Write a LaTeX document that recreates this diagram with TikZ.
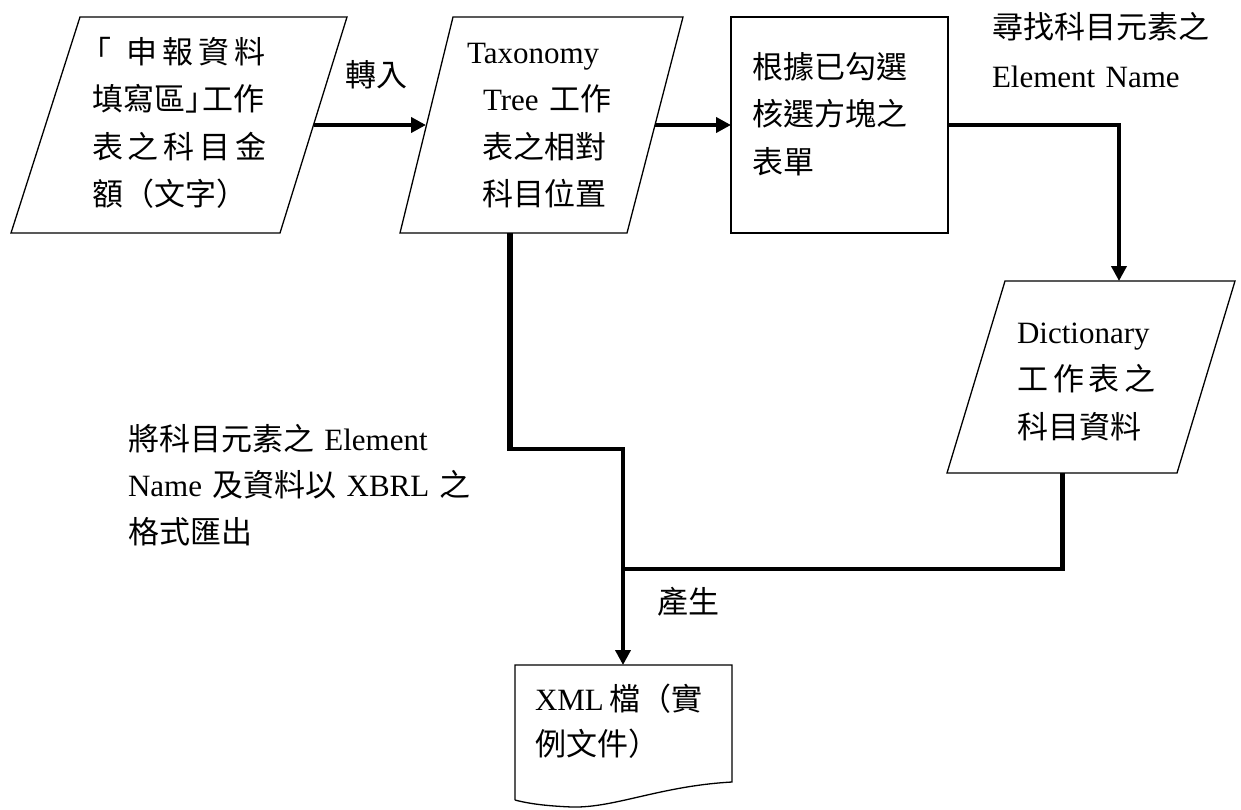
\documentclass[tikz,border=0pt]{standalone}
\usepackage{fontspec}
\setmainfont{Liberation Serif}
\newfontfamily\cjk{Noto Sans CJK TC}
\usetikzlibrary{arrows.meta}
\newcommand{\zh}[1]{{\cjk #1}}
\newcommand{\lsp}{\kern5pt}
\begin{document}
\begin{tikzpicture}[x=1pt,y=-1pt,
  shapeline/.style={draw=black,line width=1.3pt,line join=miter},
  conn/.style={draw=black,line width=3.8pt},
  arr/.style={conn,-{Triangle[length=15pt,width=15pt]}},
  txt/.style={anchor=base west,inner sep=0pt,outer sep=0pt,text width=400pt,align=left,font=\fontsize{31}{47.5}\selectfont},
]
\useasboundingbox (0,0) rectangle (1241,809);
\fill[white] (0,0) rectangle (1241,809);

% shapes
\draw[shapeline] (80,17) -- (347,17) -- (280,233) -- (11,233) -- cycle;
\draw[shapeline] (453,17) -- (683,17) -- (627,233) -- (400,233) -- cycle;
\draw[shapeline] (731,17) rectangle (948,233);
\draw[shapeline] (1005,281) -- (1235,281) -- (1177,473) -- (947,473) -- cycle;
\draw[shapeline] (515,800) -- (515,665) -- (732,665) -- (732,782)
   .. controls (660,786) and (615,808) .. (572,807)
   .. controls (548,806) and (530,804) .. (515,800);

% connection points
\coordinate (s1out) at (313.5,125);
\coordinate (s2in) at (426,125);
\coordinate (s2out) at (655,125);
\coordinate (b3in) at (731,125);
\coordinate (b3out) at (948,125);
\coordinate (dictin) at (1119,281);
\coordinate (s2bot) at (510,233);
\coordinate (bend) at (623,449);
\coordinate (dictbot) at (1062,473);
\coordinate (join) at (623,569);
\coordinate (docin) at (623,665);

% connectors
\draw[arr] (s1out) -- (s2in);
\draw[arr] (s2out) -- (b3in);
\draw[arr] (b3out) -| (dictin);
\draw[conn] (s2bot) |- (bend) -- (join);
\draw[line width=6pt] (s2bot) -- (510,451);
\draw[conn] (dictbot) |- (join);
\draw[line width=5pt] (dictbot) -- (1062,571);
\draw[arr] (join) -- (docin);

% texts
\node[txt] (t1) at (92,63) {\zh{\kern-12pt「\kern16pt 申\lsp 報\lsp 資\lsp 料}\\\zh{填寫區」\kern-14pt 工作}\\\zh{表\lsp 之\lsp 科\lsp 目\lsp 金}\\\zh{額（文字）}};
\node[txt] (l2) at (345,86) {\zh{轉入}};
\node[txt] (t2) at (467,63) {Taxonomy\\\hspace*{16pt}Tree \zh{工作}\\\hspace*{15pt}\zh{表之相對}\\\hspace*{15pt}\zh{科目位置}};
\node[txt] (t3) at (752,78) {\zh{根據已勾選}\\\zh{核選方塊之}\\\zh{表單}};
\node[txt,font=\fontsize{31}{49}\selectfont] (l1) at (992,38) {\zh{尋找科目元素之}\\Element Name};
\node[txt] (t4) at (1017,343) {Dictionary\\\zh{工\lsp 作\lsp 表\lsp 之}\\\zh{科目資料}};
\node[txt,font=\fontsize{31}{46.5}\selectfont] (l3) at (128,450) {\zh{將科目元素之} Element\\Name \zh{及資料以} XBRL \zh{之}\\\zh{格式匯出}};
\node[txt] (l4) at (657,613) {\zh{產生}};
\node[txt,font=\fontsize{31}{45}\selectfont] (t5) at (535,710) {XML\,\zh{檔（實}\\\zh{例文件）}};
\end{tikzpicture}
\end{document}
